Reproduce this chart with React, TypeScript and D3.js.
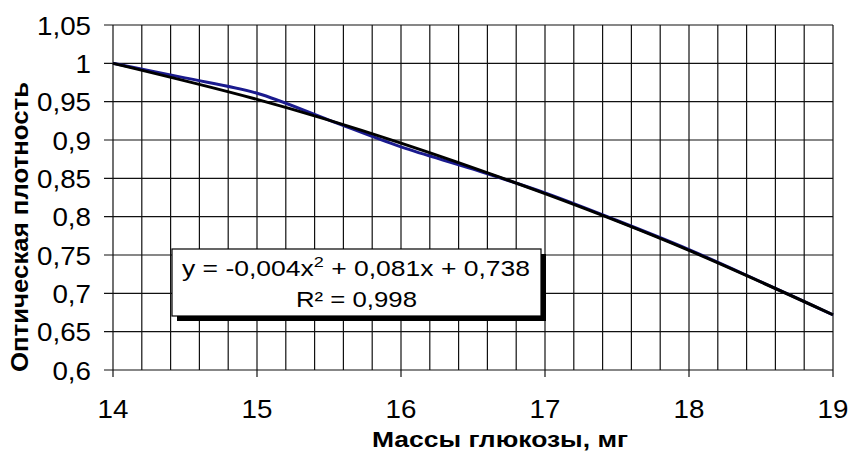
import React from "react";
import * as d3 from "d3";

const massX: number[] = [14, 14.5, 15, 15.5, 16, 16.5, 17, 17.5, 18, 18.5, 19];
const density: number[] = [1.0, 0.981, 0.961, 0.926, 0.891, 0.862, 0.831, 0.795, 0.757, 0.715, 0.672];
const trendX: number[] = [14, 15, 16, 17, 18, 19];
const trendY: number[] = [1.0, 0.953, 0.896, 0.83, 0.756, 0.672];
const yTicks: number[] = [0.6, 0.65, 0.7, 0.75, 0.8, 0.85, 0.9, 0.95, 1.0, 1.05];
const xTicks: number[] = [14, 15, 16, 17, 18, 19];
const xTitle = "Массы глюкозы, мг";
const yTitle = "Оптическая плотность";
const eqLine1a = "y = -0,004x";
const eqSup = "2";
const eqLine1b = " + 0,081x + 0,738";
const eqLine2 = "R² = 0,998";

export default function App() {
  const W = 850, H = 452;
  const left = 113, right = 833, top = 25, bottom = 370;
  const x = d3.scaleLinear().domain([14, 19]).range([left, right]);
  const y = d3.scaleLinear().domain([0.6, 1.05]).range([bottom, top]);
  const minorX = d3.range(0, 26).map((i) => 14 + i * 0.2);

  const pts = massX.map((m, i) => [m, density[i]] as [number, number]);
  const tPts = trendX.map((m, i) => [m, trendY[i]] as [number, number]);
  const dataLine = d3
    .line<[number, number]>()
    .x((d) => x(d[0]))
    .y((d) => y(d[1]))
    .curve(d3.curveCatmullRom.alpha(0.5));
  const trendLine = d3
    .line<[number, number]>()
    .x((d) => x(d[0]))
    .y((d) => y(d[1]))
    .curve(d3.curveNatural);

  const font = "'Liberation Sans', Arial, sans-serif";
  const bx = 172, by = 249, bw = 369, bh = 67;

  return (
    <svg
      width={W}
      height={H}
      style={{ position: "absolute", left: 0, top: 0, background: "#fff" }}
      fontFamily={font}
    >
      <rect x={0} y={0} width={W} height={H} fill="#fff" />
      {minorX.map((v, i) => (
        <line
          key={"vx" + i}
          x1={x(v)}
          x2={x(v)}
          y1={top}
          y2={bottom}
          stroke="#111"
          strokeWidth={1.2}
        />
      ))}
      {yTicks.map((v, i) => (
        <line
          key={"hy" + i}
          x1={104}
          x2={right}
          y1={y(v)}
          y2={y(v)}
          stroke="#111"
          strokeWidth={1.2}
        />
      ))}
      {xTicks.map((v, i) => (
        <line key={"xt" + i} x1={x(v)} x2={x(v)} y1={bottom} y2={377} stroke="#111" strokeWidth={1.2} />
      ))}
      {yTicks.map((v, i) => (
        <text
          key={"yl" + i}
          transform={`translate(91,${y(v) + 9.5}) scale(1.11,1)`}
          textAnchor="end"
          fontSize={25}
          fill="#000"
        >
          {d3.format(".2~f")(v).replace(".", ",")}
        </text>
      ))}
      {xTicks.map((v, i) => (
        <text
          key={"xl" + i}
          transform={`translate(${x(v)},418) scale(1.11,1)`}
          textAnchor="middle"
          fontSize={25}
          fill="#000"
        >
          {v}
        </text>
      ))}
      <path d={dataLine(pts) || ""} fill="none" stroke="#1a1a8e" strokeWidth={3} />
      <path d={trendLine(tPts) || ""} fill="none" stroke="#000" strokeWidth={3} />
      <rect x={bx + 5} y={by + 5} width={bw} height={bh} fill="#000" />
      <rect x={bx} y={by} width={bw} height={bh} fill="#fff" stroke="#000" strokeWidth={1.2} />
      <text
        x={bx + 10}
        y={276}
        fontSize={22}
        fill="#000"
        textLength={348}
        lengthAdjust="spacingAndGlyphs"
      >
        <tspan>{eqLine1a}</tspan>
        <tspan fontSize={15} dy={-9}>{eqSup}</tspan>
        <tspan dy={9}>{eqLine1b}</tspan>
      </text>
      <text
        x={bx + bw / 2}
        y={306.5}
        fontSize={22}
        fill="#000"
        textAnchor="middle"
        textLength={121}
        lengthAdjust="spacingAndGlyphs"
      >
        {eqLine2}
      </text>
      <text
        x={500}
        y={446.5}
        fontSize={22}
        fontWeight="bold"
        textAnchor="middle"
        textLength={256}
        lengthAdjust="spacingAndGlyphs"
        fill="#000"
      >
        {xTitle}
      </text>
      <text
        transform={`translate(27.5,227) rotate(-90)`}
        fontSize={23}
        fontWeight="bold"
        textAnchor="middle"
        textLength={290}
        lengthAdjust="spacingAndGlyphs"
        fill="#000"
      >
        {yTitle}
      </text>
    </svg>
  );
}
